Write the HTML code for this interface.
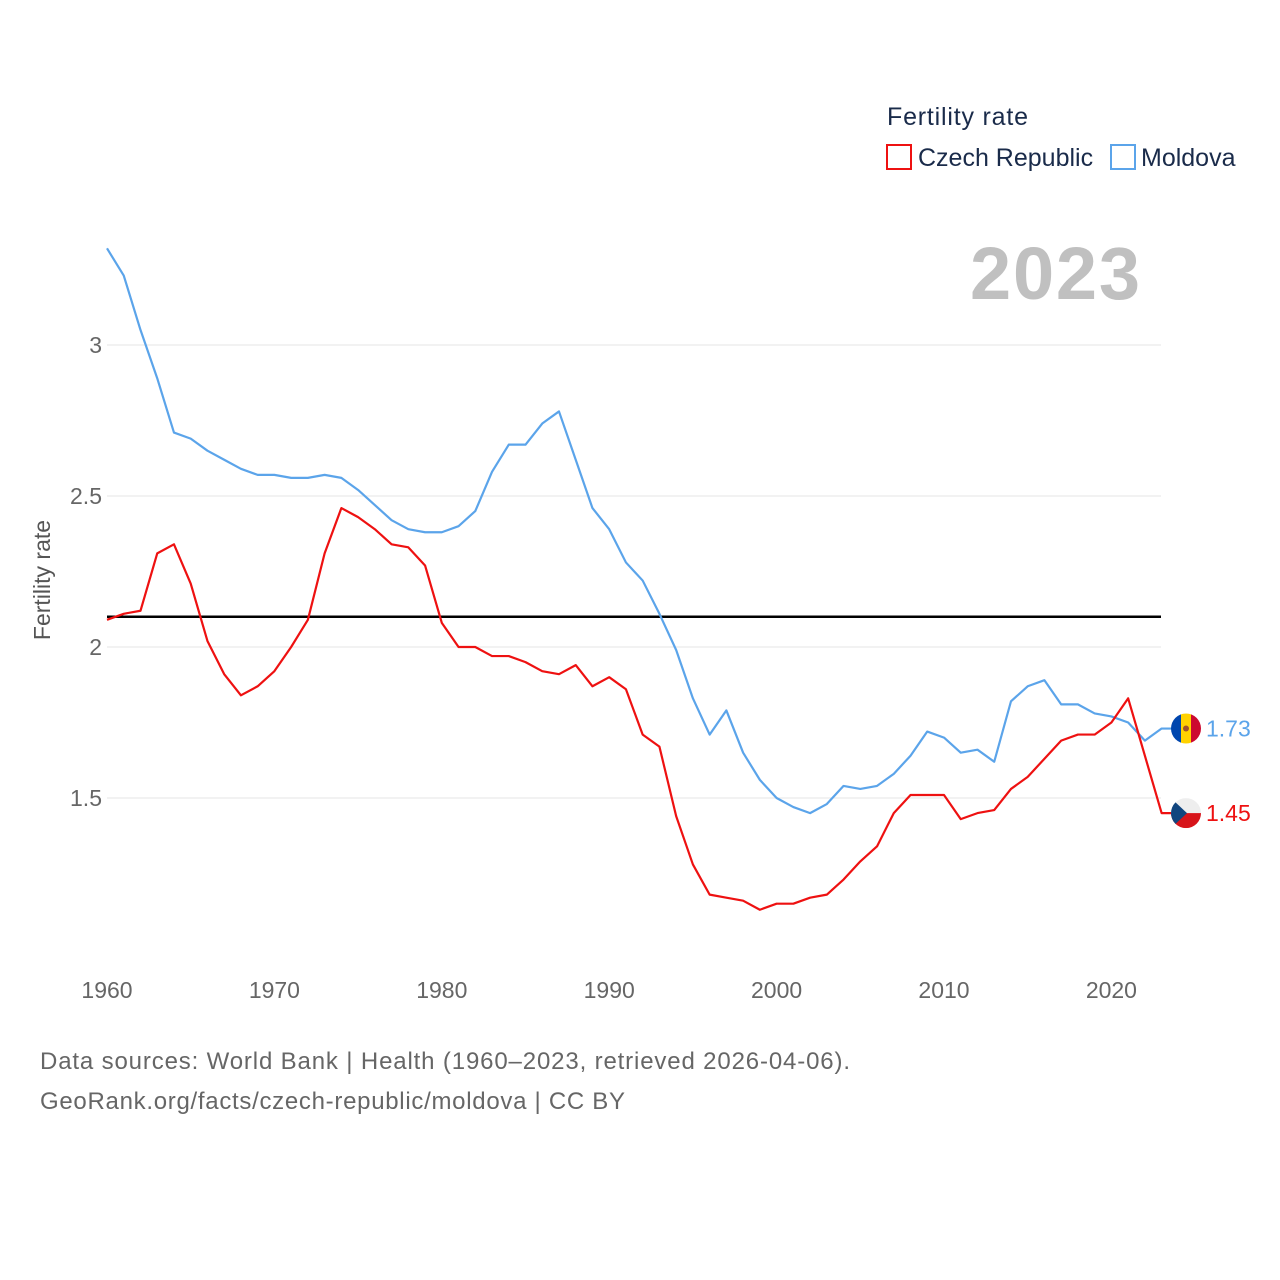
<!DOCTYPE html>
<html><head><meta charset="utf-8"><style>
html,body{margin:0;padding:0;background:#fff;}
svg{display:block;font-family:"Liberation Sans",sans-serif;}
</style></head><body>
<svg id="chart" width="1280" height="1280">
<text x="887" y="125" font-size="25" fill="#1a2b4a" textLength="141">Fertility rate</text>
<g><rect x="887" y="145" width="24" height="24" fill="none" stroke="#ee1111" stroke-width="2"/><text x="918" y="166" font-size="25" fill="#1a2b4a">Czech Republic</text></g>
<g><rect x="1111" y="145" width="24" height="24" fill="none" stroke="#5ba4ea" stroke-width="2"/><text x="1141" y="166" font-size="25" fill="#1a2b4a">Moldova</text></g>
<text x="1140" y="299" font-size="74" font-weight="bold" fill="#c0c0c0" text-anchor="end" textLength="170">2023</text>
<text transform="translate(50,580) rotate(-90)" font-size="23" fill="#555" text-anchor="middle">Fertility rate</text>
<g id="grid"></g><g id="series"></g>
<text x="40" y="1069" font-size="24" fill="#666" textLength="810">Data sources: World Bank | Health (1960–2023, retrieved 2026-04-06).</text>
<text x="40" y="1109" font-size="24" fill="#666" textLength="585">GeoRank.org/facts/czech-republic/moldova | CC BY</text>
</svg>
<script>
const years=[];for(let y=1960;y<=2023;y++)years.push(y);
const czech=[2.09,2.11,2.12,2.31,2.34,2.21,2.02,1.91,1.84,1.87,1.92,2.00,2.09,2.31,2.46,2.43,2.39,2.34,2.33,2.27,2.08,2.00,2.00,1.97,1.97,1.95,1.92,1.91,1.94,1.87,1.90,1.86,1.71,1.67,1.44,1.28,1.18,1.17,1.16,1.13,1.15,1.15,1.17,1.18,1.23,1.29,1.34,1.45,1.51,1.51,1.51,1.43,1.45,1.46,1.53,1.57,1.63,1.69,1.71,1.71,1.75,1.83,1.64,1.45];
const moldova=[3.32,3.23,3.05,2.89,2.71,2.69,2.65,2.62,2.59,2.57,2.57,2.56,2.56,2.57,2.56,2.52,2.47,2.42,2.39,2.38,2.38,2.40,2.45,2.58,2.67,2.67,2.74,2.78,2.62,2.46,2.39,2.28,2.22,2.11,1.99,1.83,1.71,1.79,1.65,1.56,1.50,1.47,1.45,1.48,1.54,1.53,1.54,1.58,1.64,1.72,1.70,1.65,1.66,1.62,1.82,1.87,1.89,1.81,1.81,1.78,1.77,1.75,1.69,1.73];
const yTicks=[1.5,2,2.5,3];
const xTicks=[1960,1970,1980,1990,2000,2010,2020];
const refLine=2.1;
const X=y=>107+(y-1960)*16.74;
const Y=v=>647-(v-2)*302;
const NS="http://www.w3.org/2000/svg";
function mk(tag,attrs,parent){const e=document.createElementNS(NS,tag);for(const k in attrs)e.setAttribute(k,attrs[k]);parent.appendChild(e);return e;}
const g=document.getElementById('grid'),s=document.getElementById('series');
yTicks.forEach(t=>{
 const l=mk('line',{x1:107,x2:1161,y1:Y(t),y2:Y(t),stroke:'#e6e6e6','stroke-width':1},g);
 
 
 const tx=mk('text',{x:102,y:Y(t)+8,'font-size':23,fill:'#666','text-anchor':'end'},g);tx.textContent=String(t);
 
 
});
xTicks.forEach(t=>{
 const tx=mk('text',{x:X(t),y:998,'font-size':23,fill:'#666','text-anchor':'middle'},g);tx.textContent=String(t);
 
 
});
const rl=mk('line',{x1:107,x2:1161,y1:Y(refLine),y2:Y(refLine),stroke:'#000','stroke-width':2.5},g);


function line(data,color,name){
 const pts=data.map((v,i)=>X(years[i])+','+Y(v));
 pts.push('1175,'+Y(data[data.length-1]));
 const p=mk('polyline',{points:pts.join(' '),fill:'none',stroke:color,'stroke-width':2.2,'stroke-linejoin':'round'},s);
 
 
}
line(moldova,'#5ba4ea','moldova-line');
line(czech,'#ee1111','czech-line');
function endLabel(v,color,name,flag){
 const cx=1186,cy=Y(v);
 const gg=mk('g',{},s);
 
 
 const cp=mk('clipPath',{id:name+'-clip'},gg);mk('circle',{cx:cx,cy:cy,r:15},cp);
 const fg=mk('g',{'clip-path':'url(#'+name+'-clip)'},gg);
 if(flag==='md'){mk('rect',{x:cx-15,y:cy-15,width:10,height:30,fill:'#0046ae'},fg);mk('rect',{x:cx-5,y:cy-15,width:10,height:30,fill:'#ffd200'},fg);mk('rect',{x:cx+5,y:cy-15,width:10,height:30,fill:'#cc092f'},fg);mk('circle',{cx:cx,cy:cy,r:3,fill:'#a0522d'},fg);}
 else{mk('rect',{x:cx-15,y:cy-15,width:30,height:15,fill:'#eee'},fg);mk('rect',{x:cx-15,y:cy,width:30,height:15,fill:'#d7141a'},fg);mk('polygon',{points:(cx-15)+','+(cy-15)+' '+(cx+1)+','+cy+' '+(cx-15)+','+(cy+15),fill:'#11457e'},fg);}
 const t=mk('text',{x:1206,y:cy+8,'font-size':23,fill:color},gg);t.textContent=v.toFixed(2);
}
endLabel(moldova[moldova.length-1],'#5ba4ea','moldova-end-label','md');
endLabel(czech[czech.length-1],'#ee1111','czech-end-label','cz');
</script>
</body></html>
